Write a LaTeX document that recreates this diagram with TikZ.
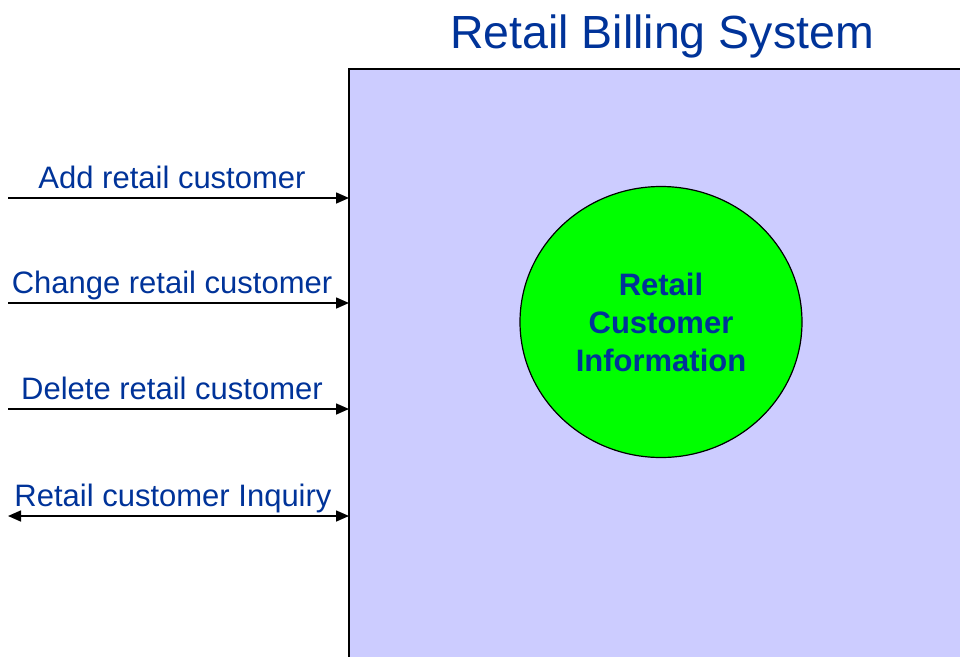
\documentclass[tikz,border=0pt]{standalone}
\usepackage{fontspec}
\setmainfont{Liberation Sans}
\usetikzlibrary{arrows.meta,shapes.geometric}
\definecolor{txtblue}{RGB}{0,51,153}
\definecolor{sysfill}{RGB}{204,204,255}
\definecolor{storegreen}{RGB}{0,255,0}
\tikzset{
  tip/.tip={Triangle[length=13pt,width=11pt]},
  flow/.style={line width=1.6pt,-tip},
  flowboth/.style={line width=1.6pt,tip-tip},
  flowlabel/.style={anchor=base,text=txtblue,font=\fontsize{31}{36}\selectfont,inner sep=0pt},
}
\begin{document}
\begin{tikzpicture}[x=1pt,y=-1pt]
\useasboundingbox (0,0) rectangle (960,656);
\node[anchor=base,text=txtblue,font=\fontsize{46.5}{52}\selectfont,inner sep=0pt] (title) at (662,48) {Retail Billing System};
\path[fill=sysfill] (349,69) rectangle (962,658);
\draw[line width=1.6pt] (962,69) -- (349,69) -- (349,658);
\node[ellipse,draw,line width=1.2pt,fill=storegreen,minimum width=282pt,minimum height=271pt,inner sep=0pt,
      text=txtblue,font=\bfseries\fontsize{31}{38}\selectfont,align=center] (store) at (661,322) {Retail\\Customer\\Information};
\foreach \n/\y/\t in {a/198/Add retail customer, b/303/Change retail customer, c/409/Delete retail customer}{
  \coordinate (\n s) at (8,\y);
  \coordinate (\n e) at (349,\y);
  \draw[flow] (\n s) -- (\n e);
  \node[flowlabel] (\n l) at (172,\y-10) {\t};
}
\coordinate (ds) at (8,516);
\coordinate (de) at (349,516);
\draw[flowboth] (ds) -- (de);
\node[flowlabel] (dl) at (173,506) {Retail customer Inquiry};
\end{tikzpicture}
\end{document}
